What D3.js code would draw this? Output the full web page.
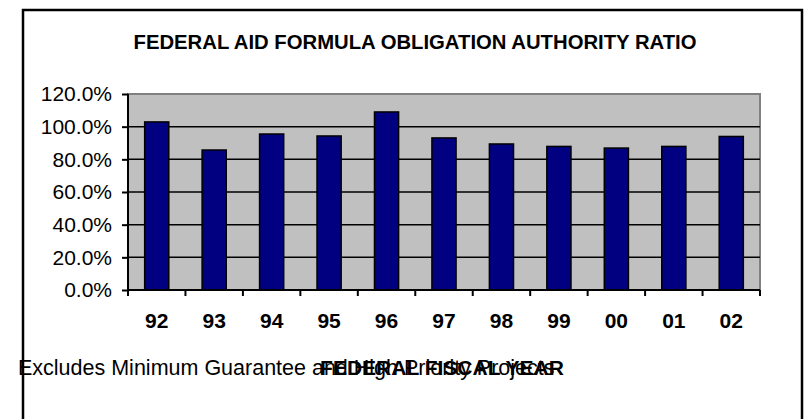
<!DOCTYPE html>
<html>
<head>
<meta charset="utf-8">
<script src="https://d3js.org/d3.v7.min.js"></script>
<style>
  body { margin: 0; background: #fff; }
  text { font-family: "Liberation Sans", Arial, sans-serif; fill: #000; }
</style>
</head>
<body>
<div id="chart"></div>
<script>
// chart data
const years = ["92", "93", "94", "95", "96", "97", "98", "99", "00", "01", "02"];
const ratios = [102.9, 85.7, 95.5, 94.3, 109.0, 93.1, 89.4, 87.9, 86.9, 87.9, 94.0];
const yTicks = [0, 20, 40, 60, 80, 100, 120];

const width = 804, height = 419;
const plot = {left: 128, right: 760, top: 94, bottom: 290};

var svg = d3.select("#chart").append("svg")
  .attr("width", width)
  .attr("height", height);

// outer frame (bottom edge runs off the picture)
svg.append("rect")
  .attr("x", 23).attr("y", 10)
  .attr("width", 779).attr("height", 440)
  .attr("fill", "none")
  .attr("stroke", "#000")
  .attr("stroke-width", 2.5);

var x = d3.scaleBand()
  .domain(years)
  .range([plot.left, plot.right])
  .paddingInner(0.58)
  .paddingOuter(0.29);

var y = d3.scaleLinear()
  .domain([0, 120])
  .range([plot.bottom, plot.top]);

// plot background
svg.append("rect")
  .attr("x", plot.left).attr("y", plot.top)
  .attr("width", plot.right - plot.left)
  .attr("height", plot.bottom - plot.top)
  .attr("fill", "#c0c0c0")
  .attr("stroke", "#808080")
  .attr("stroke-width", 2);

// gridlines
svg.selectAll(".grid")
  .data(yTicks.filter(function(d) { return d > 0 && d < 120; }))
  .enter().append("line")
    .attr("class", "grid")
    .attr("x1", plot.left).attr("x2", plot.right)
    .attr("y1", function(d) { return y(d); })
    .attr("y2", function(d) { return y(d); })
    .attr("stroke", "#000")
    .attr("stroke-width", 1.5);

// bars
svg.selectAll(".bar")
  .data(ratios)
  .enter().append("rect")
    .attr("class", "bar")
    .attr("x", function(d, i) { return x(years[i]); })
    .attr("y", function(d) { return y(d); })
    .attr("width", x.bandwidth())
    .attr("height", function(d) { return y(0) - y(d); })
    .attr("fill", "#000080")
    .attr("stroke", "#000")
    .attr("stroke-width", 1.5);

// y axis
var yAxis = d3.axisLeft(y)
  .tickValues(yTicks)
  .tickSize(6)
  .tickPadding(10)
  .tickFormat(function(d) { return d.toFixed(1) + "%"; });

var gy = svg.append("g")
  .attr("transform", "translate(" + plot.left + ",0)")
  .call(yAxis);
gy.select(".domain").attr("stroke-width", 2).attr("d", "M0," + plot.top + "V" + plot.bottom);
gy.selectAll(".tick line").attr("stroke-width", 2);
gy.selectAll(".tick text")
  .style("font-size", "21px")
  .style("font-family", "'Liberation Sans', Arial, sans-serif");

// x axis: ticks sit between categories
var edges = years.map(function(d) { return x(d) - x.step() * x.paddingInner() / 2; });
edges.push(plot.right);

svg.append("line")
  .attr("x1", plot.left).attr("x2", plot.right)
  .attr("y1", plot.bottom).attr("y2", plot.bottom)
  .attr("stroke", "#000").attr("stroke-width", 2);

svg.selectAll(".xtick")
  .data(edges)
  .enter().append("line")
    .attr("class", "xtick")
    .attr("x1", function(d) { return d; })
    .attr("x2", function(d) { return d; })
    .attr("y1", plot.bottom).attr("y2", plot.bottom + 6)
    .attr("stroke", "#000").attr("stroke-width", 2);

svg.selectAll(".xlabel")
  .data(years)
  .enter().append("text")
    .attr("class", "xlabel")
    .attr("x", function(d) { return x(d) + x.bandwidth() / 2; })
    .attr("y", 328)
    .attr("text-anchor", "middle")
    .style("font-size", "21px")
    .style("font-weight", "bold")
    .text(function(d) { return d; });

// title
svg.append("text")
  .attr("x", 415).attr("y", 49)
  .attr("text-anchor", "middle")
  .style("font-size", "20.3px")
  .style("font-weight", "bold")
  .text("FEDERAL AID FORMULA OBLIGATION AUTHORITY RATIO");

// footnote and axis title overlap, as in the original
svg.append("text")
  .attr("x", 18).attr("y", 375)
  .style("font-size", "21.5px")
  .text("Excludes Minimum Guarantee and High Priority Projects");

svg.append("text")
  .attr("x", 442).attr("y", 375)
  .attr("text-anchor", "middle")
  .style("font-size", "21px")
  .style("font-weight", "bold")
  .text("FEDERAL FISCAL YEAR");
</script>
</body>
</html>
